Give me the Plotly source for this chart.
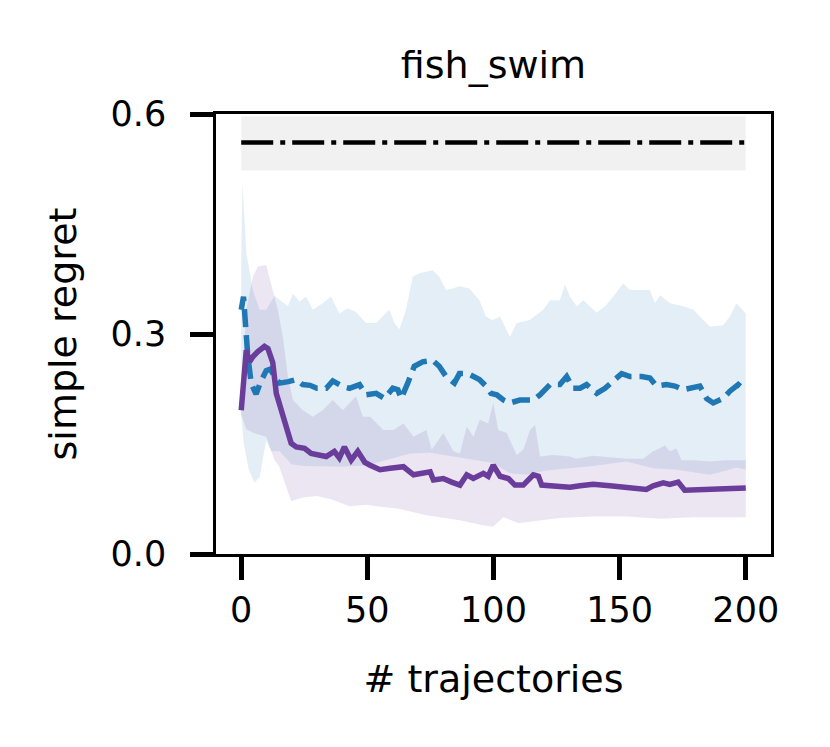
import plotly.graph_objs as go

# mean simple regret, dashed blue run
blue_mean_x = [0, 0.9, 2.6, 4.0, 5.9, 7.5, 9.9, 11.5, 13.9, 15.2,
               18.7, 21.8, 24.4, 27.3, 30.0, 33.7, 36.3, 40.5, 42.9, 46.9,
               49.5, 53.5, 56.8, 60.1, 62.1, 63.4, 66.0, 68.6, 71.9, 75.9,
               78.5, 81.2, 84.5, 86.5, 89.8, 94.4, 97.0, 99.0, 101.3, 103.9,
               106.5, 110.5, 115.8, 118.4, 122.4, 126.3, 129.0, 131.6, 134.3, 136.9,
               140.9, 144.2, 147.5, 150.8, 154.1, 158.7, 162.0, 164.6, 168.6, 171.9,
               175.2, 179.2, 181.8, 184.5, 187.1, 191.0, 193.7, 197.0, 200]
blue_mean_y = [0.333, 0.351, 0.270, 0.232, 0.218, 0.233, 0.250, 0.252, 0.238, 0.233,
               0.235, 0.238, 0.231, 0.230, 0.226, 0.226, 0.236, 0.228, 0.226, 0.231,
               0.217, 0.219, 0.212, 0.226, 0.224, 0.212, 0.233, 0.256, 0.262, 0.264,
               0.256, 0.242, 0.233, 0.246, 0.246, 0.238, 0.229, 0.219, 0.217, 0.210,
               0.206, 0.210, 0.210, 0.217, 0.231, 0.231, 0.242, 0.226, 0.226, 0.231,
               0.219, 0.226, 0.236, 0.246, 0.242, 0.242, 0.240, 0.229, 0.231, 0.229,
               0.224, 0.226, 0.229, 0.212, 0.206, 0.212, 0.222, 0.231, 0.222]

# spread around the blue run
blue_upper_x = [0, 0.5, 2.0, 3.3, 4.6, 7.3, 9.9, 13.2, 16.5, 18.5,
                20.5, 23.1, 25.7, 28.4, 32.3, 35.6, 38.9, 42.2, 45.5, 49.5,
                53.5, 58.7, 60.7, 62.7, 65.3, 68.0, 70.6, 75.9, 78.5, 81.2,
                83.8, 86.5, 90.4, 94.4, 97.0, 99.6, 102.6, 106.5, 109.2, 114.4,
                119.7, 122.4, 126.3, 128.3, 130.3, 133.0, 135.6, 138.2, 140.9, 144.2,
                147.5, 151.4, 154.1, 162.0, 164.0, 166.0, 170.0, 175.2, 179.2, 183.1,
                185.8, 191.0, 193.7, 196.3, 200]
blue_upper_y = [0.400, 0.506, 0.411, 0.383, 0.360, 0.333, 0.333, 0.352, 0.343, 0.338,
                0.355, 0.344, 0.351, 0.333, 0.342, 0.351, 0.328, 0.335, 0.330, 0.315,
                0.315, 0.333, 0.315, 0.306, 0.333, 0.378, 0.383, 0.387, 0.378, 0.360,
                0.362, 0.365, 0.362, 0.346, 0.324, 0.319, 0.324, 0.296, 0.315, 0.319,
                0.333, 0.346, 0.346, 0.367, 0.351, 0.338, 0.346, 0.338, 0.329, 0.338,
                0.351, 0.369, 0.360, 0.360, 0.342, 0.353, 0.342, 0.338, 0.333, 0.319,
                0.310, 0.312, 0.324, 0.342, 0.328]
blue_lower_x = [0, 1.0, 3.0, 5.3, 7.3, 9.9, 11.9, 15.2, 20.0, 25.0,
                30.0, 40.0, 50.0, 60.0, 67.0, 75.0, 86.6, 99.8, 106.5, 113.0,
                121.0, 130.0, 139.5, 152.7, 163.3, 172.5, 185.8, 192.3, 196.3, 200]
blue_lower_y = [0.190, 0.150, 0.115, 0.097, 0.105, 0.155, 0.140, 0.140, 0.122, 0.120,
                0.120, 0.119, 0.121, 0.130, 0.137, 0.138, 0.131, 0.124, 0.110, 0.108,
                0.114, 0.117, 0.120, 0.126, 0.117, 0.115, 0.108, 0.114, 0.118, 0.115]

# mean simple regret, solid purple run
purple_mean_x = [0, 2.0, 3.3, 4.6, 6.6, 9.2, 10.6, 12.5, 13.9, 15.8,
                 17.8, 19.8, 21.8, 25.1, 27.7, 31.0, 33.7, 36.9, 38.9, 40.9,
                 43.6, 46.2, 49.0, 51.1, 55.0, 59.0, 64.3, 68.3, 74.9, 76.2,
                 80.1, 83.4, 86.7, 89.4, 92.0, 96.0, 97.9, 99.9, 102.6, 105.9,
                 108.5, 111.8, 115.8, 117.8, 119.1, 126.3, 130.3, 134.3, 139.5, 146.1,
                 152.7, 160.6, 163.3, 167.3, 169.9, 173.2, 175.8, 181.8, 189.7, 195.0,
                 200]
purple_mean_y = [0.196, 0.278, 0.262, 0.269, 0.276, 0.283, 0.280, 0.261, 0.219, 0.196,
                 0.174, 0.151, 0.146, 0.144, 0.137, 0.135, 0.133, 0.140, 0.131, 0.146,
                 0.128, 0.140, 0.125, 0.121, 0.115, 0.117, 0.119, 0.108, 0.112, 0.101,
                 0.103, 0.098, 0.094, 0.108, 0.103, 0.110, 0.106, 0.121, 0.106, 0.103,
                 0.094, 0.094, 0.108, 0.106, 0.094, 0.092, 0.091, 0.093, 0.095, 0.093,
                 0.090, 0.088, 0.093, 0.097, 0.095, 0.098, 0.087, 0.088, 0.089, 0.089,
                 0.090]

# spread around the purple run
purple_upper_x = [0, 2.0, 4.6, 6.6, 9.9, 11.9, 14.5, 16.5, 18.5, 20.5,
                  24.4, 28.4, 32.3, 36.3, 40.3, 45.5, 48.2, 51.1, 56.3, 60.3,
                  64.3, 68.3, 73.4, 75.5, 80.1, 84.1, 86.7, 89.4, 92.0, 94.6,
                  97.9, 99.9, 101.9, 105.2, 109.2, 111.8, 114.5, 116.5, 118.4, 123.7,
                  130.2, 132.9, 139.5, 146.1, 152.7, 159.3, 163.3, 165.9, 167.9, 169.9,
                  172.5, 174.5, 179.1, 185.8, 192.3, 200]
purple_upper_y = [0.200, 0.333, 0.378, 0.392, 0.394, 0.369, 0.333, 0.296, 0.242, 0.210,
                  0.196, 0.187, 0.196, 0.210, 0.196, 0.215, 0.187, 0.187, 0.169, 0.169,
                  0.178, 0.160, 0.169, 0.142, 0.165, 0.140, 0.137, 0.174, 0.160, 0.183,
                  0.178, 0.206, 0.169, 0.165, 0.135, 0.142, 0.169, 0.176, 0.133, 0.135,
                  0.133, 0.130, 0.134, 0.132, 0.130, 0.130, 0.140, 0.144, 0.148, 0.140,
                  0.144, 0.128, 0.128, 0.126, 0.128, 0.128]
purple_lower_x = [0, 2.0, 5.0, 9.9, 13.2, 15.0, 17.2, 19.8, 24.4, 30.0,
                  36.3, 42.9, 49.5, 56.0, 62.0, 73.4, 86.6, 95.0, 99.8, 103.9,
                  110.0, 117.0, 126.0, 139.5, 152.7, 165.9, 179.1, 200]
purple_lower_y = [0.190, 0.170, 0.165, 0.160, 0.128, 0.120, 0.099, 0.072, 0.077, 0.079,
                  0.074, 0.065, 0.067, 0.064, 0.062, 0.053, 0.046, 0.040, 0.037, 0.050,
                  0.042, 0.045, 0.049, 0.051, 0.051, 0.048, 0.050, 0.050]

# reference level (dash-dot) and its band
ref_x = [0, 200]
ref_mean = [0.561, 0.561]
ref_upper = [0.597, 0.597]
ref_lower = [0.523, 0.523]

x_ticks = [0, 50, 100, 150, 200]
y_ticks = [0.0, 0.3, 0.6]

BLUE = '#1f77b4'
PURPLE = '#6a3d9a'
FONT = 'DejaVu Sans'


def band(x_up, y_up, x_lo, y_lo, color):
    """
    Closed polygon between an upper and a lower curve
    """
    return go.Scatter(
        x=list(x_up) + list(x_lo)[::-1],
        y=list(y_up) + list(y_lo)[::-1],
        fill='toself',
        fillcolor=color,
        line={'width': 0},
        mode='lines',
        hoverinfo='skip',
        showlegend=False,
    )


def line(x, y, color, dash, width=5.5):
    return go.Scatter(
        x=x, y=y, mode='lines',
        line={'color': color, 'width': width, 'dash': dash},
        showlegend=False,
    )


data = [
    band(ref_x, ref_upper, ref_x, ref_lower, 'rgba(0,0,0,0.055)'),
    line(ref_x, ref_mean, 'black', '32px,7px,5px,7px', width=4.5),
    band(blue_upper_x, blue_upper_y, blue_lower_x, blue_lower_y, 'rgba(31,119,180,0.12)'),
    band(purple_upper_x, purple_upper_y, purple_lower_x, purple_lower_y, 'rgba(106,61,154,0.13)'),
    line(blue_mean_x, blue_mean_y, BLUE, '18px,8px'),
    line(purple_mean_x, purple_mean_y, PURPLE, 'solid'),
]

axis_common = dict(
    showline=True, linecolor='black', linewidth=2.5, mirror=True,
    ticks='outside', ticklen=23, tickwidth=4.5, tickcolor='black',
    showgrid=False, zeroline=False,
    tickfont={'family': FONT, 'size': 35, 'color': 'black'},
)
label_font = {'family': FONT, 'size': 38, 'color': 'black'}

# the page body adds an 8px margin, so the figure is 8px smaller than the window
layout = go.Layout(
    width=822, height=739,
    margin={'l': 208, 'r': 59, 't': 106, 'b': 193},
    paper_bgcolor='white', plot_bgcolor='white',
    title={'text': 'fish_swim', 'x': 485.5 / 822, 'xanchor': 'center',
           'yref': 'container', 'y': 1 - 57 / 739, 'yanchor': 'middle',
           'font': label_font},
    xaxis=dict(axis_common, range=[-10, 210], tickvals=x_ticks,
               ticklabelstandoff=0,
               title={'text': '# trajectories', 'standoff': 37, 'font': label_font}),
    yaxis=dict(axis_common, range=[0, 0.6], tickvals=y_ticks, tickformat='.1f',
               ticklabelstandoff=17,
               title={'text': 'simple regret', 'standoff': 23, 'font': label_font}),
)

fig = go.Figure(data=data, layout=layout)
fig.write_html("out.html")
